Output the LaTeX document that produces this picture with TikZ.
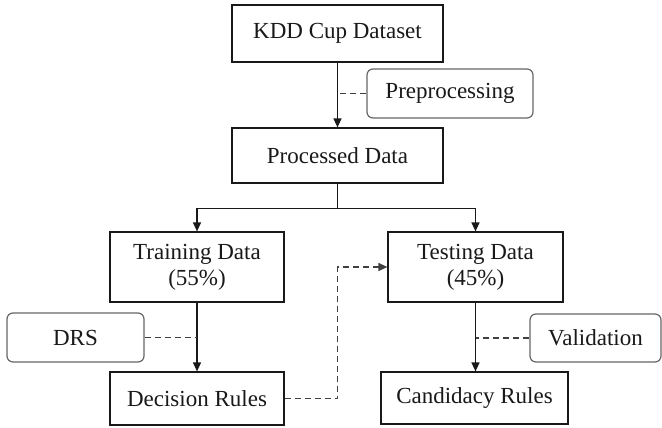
\documentclass[tikz,border=0pt]{standalone}
\usepackage{fontspec}
\setmainfont{Liberation Serif}
\usetikzlibrary{arrows.meta}
\begin{document}
\begin{tikzpicture}[x=1pt,y=-1pt,
  font=\fontsize{23}{26}\selectfont,
  box/.style={draw=black!90,line width=1.2pt,inner sep=0pt,align=center,text=black!90},
  rbox/.style={draw=black!60,line width=1.2pt,rounded corners=6pt,inner sep=0pt,align=center,text=black!90},
  arr/.style={line width=1.3pt,draw=black!90,-{Triangle[width=8pt,length=9pt]}},
  dsh/.style={line width=1.3pt,draw=black!75,dash pattern=on 6pt off 4pt}]
\useasboundingbox[fill=white] (0,0) rectangle (662,428);
\node[box,minimum width=211pt,minimum height=57pt] (kdd) at (337.5,33.5) {KDD Cup Dataset};
\node[box,minimum width=211pt,minimum height=55pt] (proc) at (337.5,155.5) {Processed Data};
\node[rbox,minimum width=166pt,minimum height=49pt] (prep) at (450,93.5) {Preprocessing};
\node[box,minimum width=174pt,minimum height=70pt] (train) at (197,267) {Training Data\\(55\%)};
\node[box,minimum width=175pt,minimum height=70pt] (test) at (475.5,267) {Testing Data\\(45\%)};
\node[rbox,minimum width=137pt,minimum height=49pt] (drs) at (75.5,337.5) {DRS};
\node[box,minimum width=174pt,minimum height=53pt] (dec) at (197,398.5) {Decision Rules};
\node[rbox,minimum width=131pt,minimum height=48pt] (val) at (595.5,338) {Validation};
\node[box,minimum width=187pt,minimum height=52pt] (cand) at (474.5,398) {Candidacy Rules};
\draw[arr] (kdd.south) -- (proc.north);
\draw[dsh] (prep.west) -- (prep.west -| kdd.south);
\draw[line width=1.3pt,draw=black!90] (proc.south) -- ++(0,25) coordinate (br);
\draw[arr] (br) -| (train.north);
\draw[arr] (br) -| (test.north);
\draw[arr] (train.south) -- (dec.north);
\draw[arr] (test.south) -- (test.south |- cand.north);
\draw[dsh] (drs.east) -- (drs.east -| train.south);
\draw[dsh] (val.west) -- (val.west -| test.south);
\draw[dsh,-{Triangle[width=8pt,length=9pt]}] (dec.east) -- ++(53,0) |- (test.west);
\end{tikzpicture}
\end{document}
